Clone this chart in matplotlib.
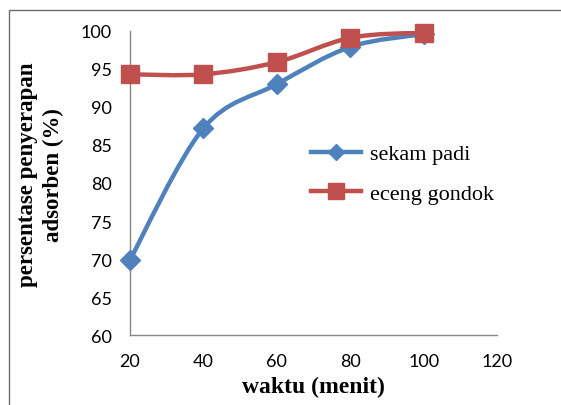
import matplotlib.pyplot as plt
import numpy as np
from matplotlib.path import Path
from matplotlib.patches import PathPatch, Rectangle
from matplotlib.lines import Line2D

# waktu kontak (menit) dan persentase penyerapan (%)
waktu = [20, 40, 60, 80, 100]
sekam_padi = [69.9, 87.2, 93.0, 97.9, 99.6]
eceng_gondok = [94.3, 94.3, 95.9, 99.1, 99.8]

blue = '#4F81BD'
red = '#C0504D'


def smooth_path(x, y):
    # bezier curve through the points (catmull-rom style, like excel smoothing)
    p = np.column_stack([x, y]).astype(float)
    pts = [p[0]]
    codes = [Path.MOVETO]
    n = len(p)
    for i in range(n - 1):
        p0 = p[i - 1] if i > 0 else p[i]
        p3 = p[i + 2] if i + 2 < n else p[i + 1]
        c1 = p[i] + (p[i + 1] - p0) / 6.0
        c2 = p[i + 1] - (p3 - p[i]) / 6.0
        pts += [c1, c2, p[i + 1]]
        codes += [Path.CURVE4] * 3
    return Path(pts, codes)


fig = plt.figure(figsize=(5.61, 4.06), dpi=100)
ax = fig.add_axes([0.2317, 0.1724, 0.6542, 0.7488])

# outer chart border
fig.patches.append(Rectangle((9 / 561, -0.1), 1.2, 1 - 11 / 406 + 0.1,
                             transform=fig.transFigure, fill=False,
                             edgecolor='#6b6b6b', linewidth=1.0))

for yy, col, mk, ms in [(sekam_padi, blue, 'D', 10.5), (eceng_gondok, red, 's', 13)]:
    ax.add_patch(PathPatch(smooth_path(waktu, yy), fill=False, edgecolor=col,
                           linewidth=3.2, capstyle='round', zorder=2))
    ax.plot(waktu, yy, linestyle='none', marker=mk, markersize=ms,
            color=col, zorder=3, clip_on=False)

ax.set_xlim(20, 120)
ax.set_ylim(60, 100)
ax.set_xticks(range(20, 121, 20))
ax.set_yticks(range(60, 101, 5))

for s in ['top', 'right']:
    ax.spines[s].set_visible(False)
for s in ['left', 'bottom']:
    ax.spines[s].set_color('#868686')
    ax.spines[s].set_linewidth(1.0)

ax.tick_params(length=0, labelsize=13, pad=13)
for lab in ax.get_xticklabels() + ax.get_yticklabels():
    lab.set_family('Lato')

ax.set_xlabel('waktu (menit)', family='Liberation Serif', fontweight='bold',
              fontsize=17, labelpad=5)
ax.set_ylabel('persentase penyerapan\nadsorben (%)', family='Liberation Serif',
              fontweight='bold', fontsize=16.5, linespacing=1.3)
ax.yaxis.set_label_coords(-0.18, 0.53)

handles = [
    Line2D([], [], color=blue, linewidth=3.2, marker='D', markersize=8),
    Line2D([], [], color=red, linewidth=3.2, marker='s', markersize=11),
]
leg = ax.legend(handles, ['sekam padi', 'eceng gondok'], loc='center left',
                bbox_to_anchor=(0.44, 0.53), frameon=False, handlelength=2.25,
                handletextpad=0.4, labelspacing=0.85,
                prop={'family': 'Liberation Serif', 'size': 16})

fig.savefig('out.png', dpi=100)
